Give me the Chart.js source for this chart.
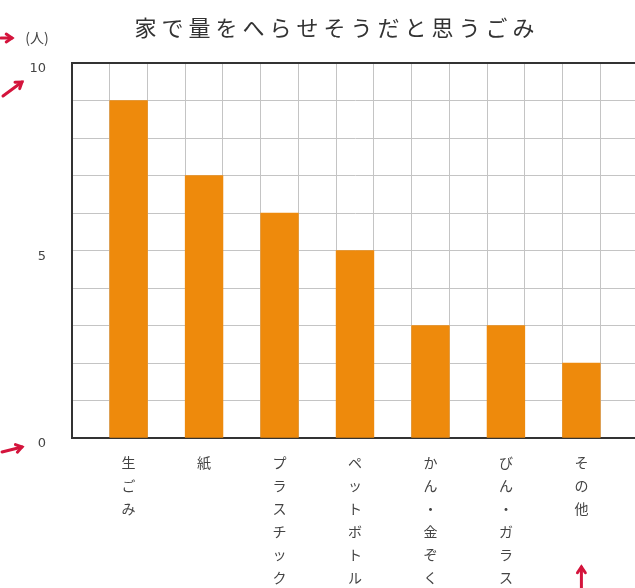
<!DOCTYPE html>
<html>
<head>
<meta charset="utf-8">
<script src="https://cdn.jsdelivr.net/npm/chart.js@4"></script>
<style>
  html, body { margin: 0; padding: 0; background: #fff; overflow: hidden; }
  #wrap { width: 640px; height: 588px; }
</style>
</head>
<body>
<div id="wrap"><canvas id="chart" width="640" height="588"></canvas></div>
<script>
// 家で量をへらせそうだと思うごみ
const chartTitle = '家で量をへらせそうだと思うごみ'
const unitLabel = '(人)'
const categories = ['生ごみ', '紙', 'プラスチック', 'ペットボトル', 'かん・金ぞく', 'びん・ガラス', 'その他']
const people = [9, 7, 6, 5, 3, 3, 2]
const yTicks = [0, 5, 10]

// bars sit in every other slot of the grid, with an empty slot between
const slotLabels = []
const slotValues = []
categories.forEach((c, i) => {
    slotLabels.push('')
    slotValues.push(null)
    slotLabels.push(c.split(''))   // vertical text, one char per line
    slotValues.push(people[i])
})
slotLabels.push('')
slotValues.push(null)

const orange = '#EE8A0C'
const red = '#D4143C'

function arrow(ctx, x1, y1, x2, y2){
    const a = Math.atan2(y2 - y1, x2 - x1)
    const h = 7
    ctx.beginPath()
    ctx.moveTo(x1, y1)
    ctx.lineTo(x2, y2)
    ctx.stroke()
    ctx.beginPath()
    ctx.moveTo(x2 - h * Math.cos(a - 0.6), y2 - h * Math.sin(a - 0.6))
    ctx.lineTo(x2, y2)
    ctx.lineTo(x2 - h * Math.cos(a + 0.6), y2 - h * Math.sin(a + 0.6))
    ctx.stroke()
}

const extras = {
    id: 'extras',
    afterDraw(chart){
        const {ctx, chartArea, scales} = chart
        const y = scales.y, x = scales.x
        ctx.save()
        // title
        ctx.fillStyle = '#333'
        ctx.font = '22px "Noto Sans CJK JP"'
        ctx.textAlign = 'center'
        ctx.textBaseline = 'middle'
        if ('letterSpacing' in ctx) ctx.letterSpacing = '5px'
        ctx.fillText(chartTitle, 337, 28)
        if ('letterSpacing' in ctx) ctx.letterSpacing = '0px'
        // unit
        ctx.fillStyle = '#444'
        ctx.font = '14px "Noto Sans CJK JP"'
        ctx.fillText(unitLabel, chartArea.left - 35, chartArea.top - 25)
        // red marker arrows
        ctx.strokeStyle = red
        ctx.lineWidth = 3
        ctx.lineCap = 'round'
        ctx.setLineDash([])
        arrow(ctx, 1, chartArea.top - 25, 12, chartArea.top - 25)
        arrow(ctx, 3, y.getPixelForValue(10) + 33, 22, y.getPixelForValue(10) + 19)
        arrow(ctx, 2, y.getPixelForValue(0) + 14, 22, y.getPixelForValue(0) + 9)
        const xo = x.getPixelForValue(13)
        arrow(ctx, xo, 590, xo, 567)
        ctx.restore()
    }
}

new Chart(document.getElementById('chart'), {
    type: 'bar',
    data: {
        labels: slotLabels,
        datasets: [{
            data: slotValues,
            backgroundColor: orange,
            borderWidth: 0,
            barPercentage: 1,
            categoryPercentage: 1
        }]
    },
    options: {
        responsive: false,
        animation: false,
        devicePixelRatio: 1,
        layout: { padding: { top: 63, left: 30, right: 2, bottom: 0 } },
        plugins: {
            legend: { display: false },
            tooltip: { enabled: false },
            title: { display: false }
        },
        scales: {
            x: {
                offset: true,
                grid: { color: '#c4c4c4', lineWidth: 1, offset: true, drawTicks: false },
                border: { color: '#333', width: 2 },
                ticks: {
                    autoSkip: false,
                    maxRotation: 0,
                    minRotation: 0,
                    padding: 13,
                    color: '#444',
                    font: { family: '"Noto Sans CJK JP"', size: 14, lineHeight: '23px' }
                },
                afterFit(s){ s.height = 150 }
            },
            y: {
                min: 0,
                max: 10,
                grid: {
                    drawTicks: false,
                    color: c => c.tick && c.tick.value === 10 ? '#333' : '#c4c4c4',
                    lineWidth: c => c.tick && c.tick.value === 10 ? 2 : 1
                },
                border: { color: '#333', width: 2 },
                ticks: {
                    stepSize: 1,
                    padding: 26,
                    labelOffset: 6,
                    color: '#444',
                    font: { family: '"DejaVu Sans"', size: 13 },
                    callback: v => yTicks.includes(v) ? v : ''
                },
                afterFit(s){ s.width = 42 }
            }
        }
    },
    plugins: [extras]
})
</script>
</body>
</html>
